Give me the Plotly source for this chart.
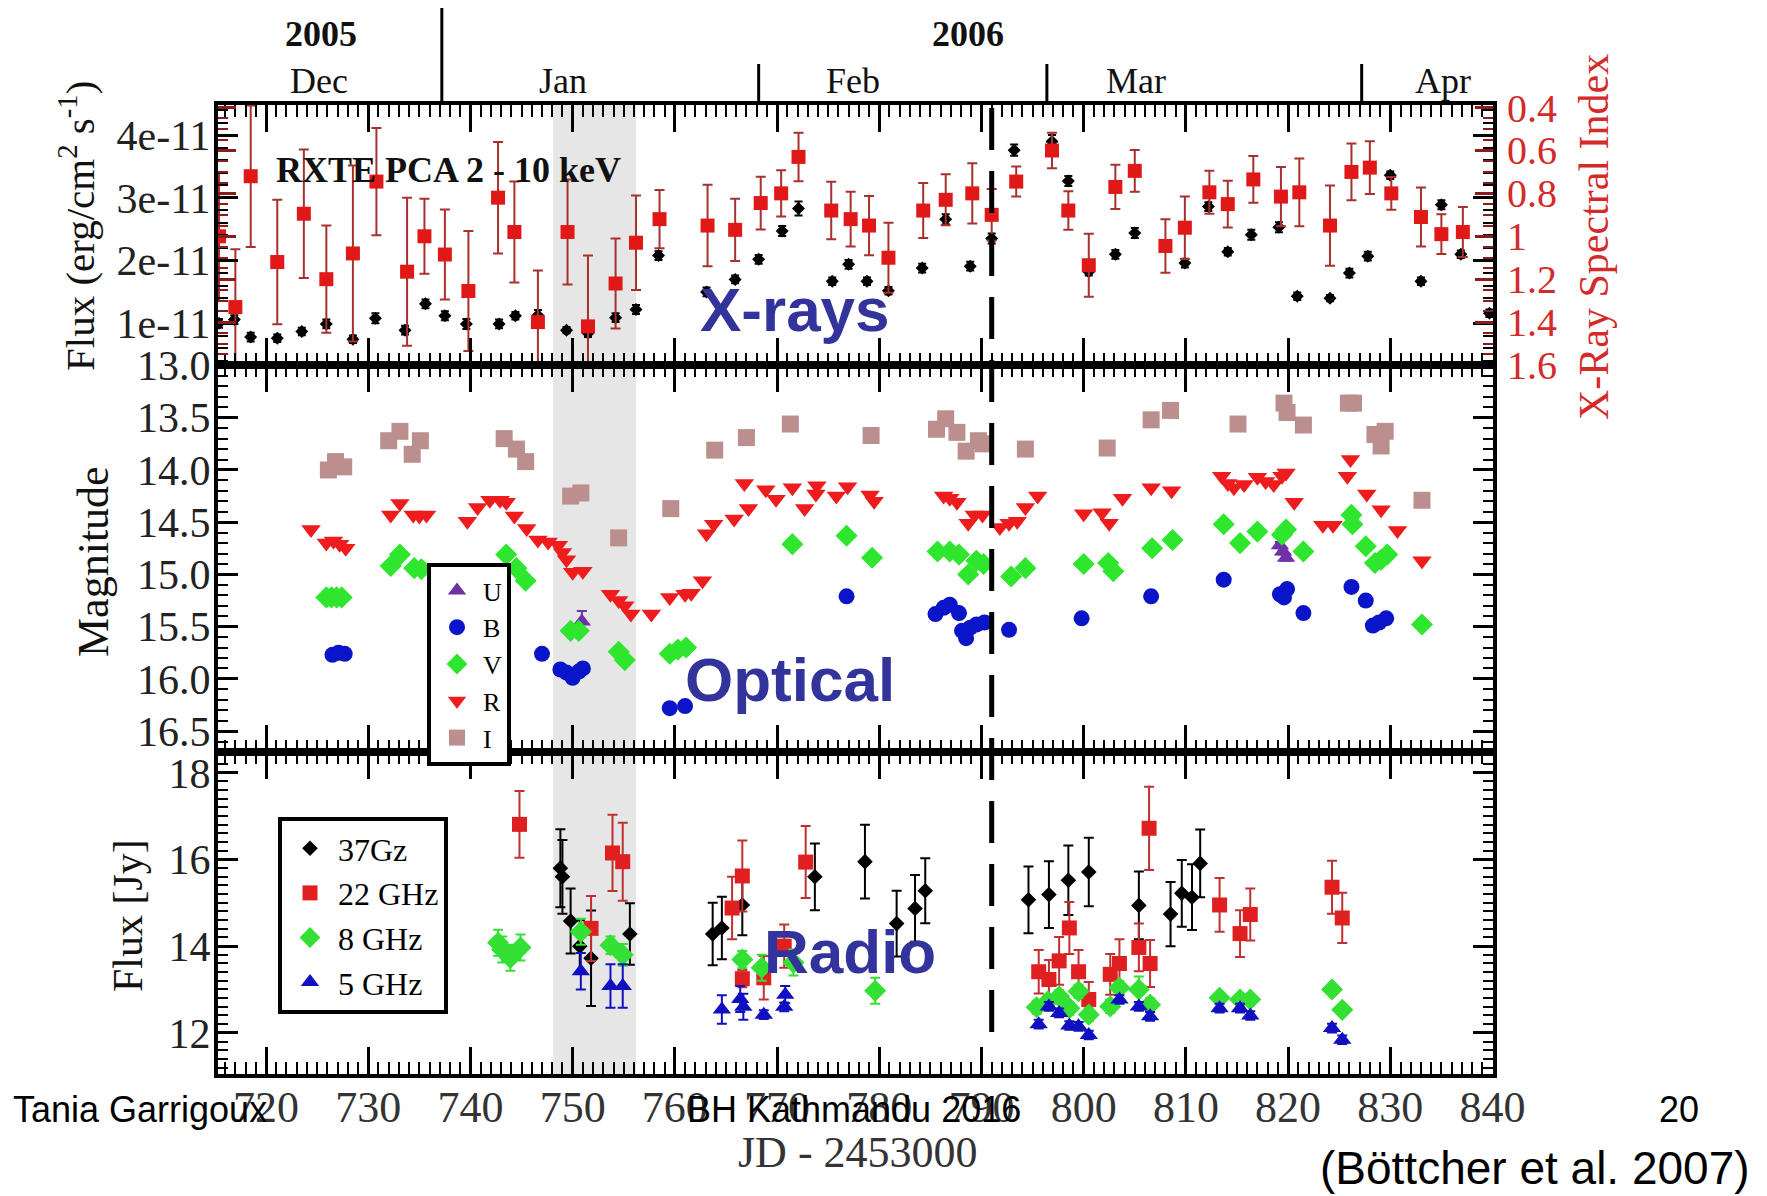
import plotly.graph_objects as go

# ---------------- X-ray panel (RXTE PCA 2-10 keV) ----------------
XRAY_JD = [715.4, 716.9, 718.5, 721.1, 723.5, 725.9, 728.5, 730.7, 733.6, 735.6,
           737.5, 739.6, 742.8, 744.4, 746.6, 749.4, 751.5, 754.2, 756.2, 758.4,
           763.1, 765.9, 768.2, 770.5, 772.1, 775.4, 777.0, 778.8, 780.9, 784.2,
           786.5, 788.9, 791.0, 793.2, 796.9, 798.5, 800.5, 803.1, 805.0, 809.9,
           812.2, 814.1, 816.4, 819.1, 820.9, 824.1, 826.0, 827.8, 830.0, 833.0,
           835.0, 836.9, 839.7]
# flux in units of 1e-11 erg/cm^2/s
XRAY_FLUX_E11 = [1.0, 1.06, 0.78, 0.76, 0.87, 0.99, 0.745, 1.08, 0.89, 1.31,
                 1.12, 0.99, 0.99, 1.12, 1.13, 0.89, 0.84, 1.09, 1.22, 2.08,
                 1.50, 1.70, 2.02, 2.47, 2.83, 1.67, 1.94, 1.67, 1.52, 1.88,
                 2.66, 1.91, 2.35, 3.76, 3.90, 3.27, 1.82, 2.10, 2.44, 1.96,
                 2.86, 2.14, 2.41, 2.53, 1.43, 1.40, 1.80, 2.07, 3.36, 1.67,
                 2.89, 2.10, 1.16]
XRAY_FLUX_ERR_E11 = [0.07, 0.07, 0.07, 0.06, 0.06, 0.07, 0.06, 0.08, 0.07, 0.07,
                     0.07, 0.08, 0.07, 0.06, 0.08, 0.05, 0.06, 0.07, 0.07, 0.07,
                     0.07, 0.06, 0.07, 0.08, 0.11, 0.06, 0.07, 0.06, 0.06, 0.07,
                     0.08, 0.07, 0.08, 0.09, 0.10, 0.08, 0.06, 0.07, 0.08, 0.07,
                     0.07, 0.06, 0.08, 0.08, 0.06, 0.05, 0.07, 0.07, 0.06, 0.06,
                     0.07, 0.06, 0.06]

INDEX_JD = [715.4, 717.0, 718.5, 721.1, 723.7, 725.9, 728.5, 730.8, 733.8, 735.5,
            737.5, 739.8, 742.7, 744.3, 746.6, 749.5, 751.5, 754.2, 756.2, 758.5,
            763.2, 765.9, 768.4, 770.4, 772.1, 775.3, 777.2, 779.0, 780.9, 784.3,
            786.5, 789.1, 791.0, 793.4, 796.9, 798.5, 800.5, 803.1, 805.0, 808.0,
            809.9, 812.3, 814.1, 816.6, 819.3, 821.1, 824.1, 826.2, 828.0, 830.1,
            833.0, 835.0, 837.1]
INDEX_VAL = [1.0, 1.33, 0.72, 1.12, 0.895, 1.20, 1.08, 0.745, 1.165, 1.0,
             1.085, 1.255, 0.82, 0.98, 1.40, 0.98, 1.42, 1.22, 1.03, 0.92,
             0.95, 0.97, 0.845, 0.80, 0.63, 0.88, 0.92, 0.95, 1.10, 0.88,
             0.83, 0.80, 0.90, 0.745, 0.60, 0.88, 1.135, 0.77, 0.695, 1.045,
             0.96, 0.795, 0.85, 0.735, 0.815, 0.795, 0.95, 0.70, 0.68, 0.80,
             0.91, 0.99, 0.98]
INDEX_ERR = [0.30, 0.27, 0.33, 0.29, 0.30, 0.25, 0.41, 0.25, 0.345, 0.175,
             0.21, 0.28, 0.26, 0.235, 0.24, 0.245, 0.33, 0.21, 0.22, 0.136,
             0.19, 0.145, 0.123, 0.108, 0.113, 0.134, 0.128, 0.138, 0.163, 0.128,
             0.119, 0.14, 0.12, 0.07, 0.083, 0.09, 0.147, 0.103, 0.097, 0.125,
             0.146, 0.10, 0.109, 0.109, 0.138, 0.158, 0.187, 0.132, 0.123, 0.076,
             0.138, 0.093, 0.117]

# ---------------- Optical panel (magnitudes) ----------------
U_JD = [750.9, 819.2, 819.5, 819.8]
U_MAG = [15.45, 14.72, 14.78, 14.84]
U_ERR = [0.10, 0.03, 0.03, 0.03]

B_JD = [726.5, 727.1, 727.7, 747.0, 748.8, 749.4, 750.0, 750.6, 751.0, 759.5,
        761.0, 776.8, 785.5, 786.3, 786.9, 787.8, 788.1, 788.5, 788.9, 789.5,
        790.3, 792.7, 799.8, 806.6, 813.7, 819.2, 819.6, 819.9, 821.5, 826.2,
        827.6, 828.3, 828.9, 829.6]
B_MAG = [15.77, 15.75, 15.76, 15.76, 15.91, 15.94, 15.99, 15.93, 15.90, 16.28,
         16.26, 15.21, 15.38, 15.32, 15.29, 15.37, 15.54, 15.61, 15.51, 15.48,
         15.46, 15.53, 15.42, 15.21, 15.05, 15.19, 15.22, 15.14, 15.37, 15.12,
         15.25, 15.49, 15.46, 15.42]

V_JD = [725.9, 726.4, 726.9, 727.4, 732.2, 733.1, 734.5, 735.2, 743.5, 744.5,
        745.4, 749.8, 750.6, 754.5, 755.1, 759.5, 760.3, 761.1, 771.5, 776.8,
        779.3, 785.7, 786.9, 787.8, 788.7, 789.5, 790.2, 792.9, 794.3, 800.0,
        802.4, 802.9, 806.7, 808.7, 813.7, 815.3, 817.0, 819.4, 819.8, 821.5,
        826.2, 826.3, 827.6, 828.5, 829.1, 829.7, 833.1]
V_MAG = [15.22, 15.22, 15.22, 15.22, 14.92, 14.81, 14.94, 14.95, 14.81, 14.94,
         15.06, 15.54, 15.54, 15.74, 15.82, 15.76, 15.72, 15.70, 14.71, 14.63,
         14.84, 14.78, 14.78, 14.81, 15.00, 14.87, 14.90, 15.02, 14.94, 14.90,
         14.89, 14.97, 14.75, 14.67, 14.52, 14.70, 14.59, 14.62, 14.57, 14.78,
         14.43, 14.52, 14.73, 14.89, 14.86, 14.81, 15.48]

R_JD = [724.4, 725.9, 726.6, 727.2, 727.8, 732.2, 733.1, 734.4, 735.0, 735.7,
        739.7, 740.7, 741.9, 742.9, 743.5, 744.3, 745.5, 746.6, 747.6, 748.6,
        749.0, 749.4, 750.0, 751.0, 753.7, 754.5, 755.1, 755.7, 757.7, 759.5,
        761.0, 761.6, 762.7, 763.1, 763.8, 765.8, 767.2, 766.8, 768.9, 769.9,
        771.5, 772.7, 773.9, 773.8, 775.8, 776.9, 779.1, 779.5, 786.3, 786.9,
        787.6, 788.7, 789.3, 790.1, 791.8, 792.7, 793.5, 794.3, 795.5, 800.0,
        801.8, 802.5, 803.8, 806.6, 808.6, 813.5, 814.1, 814.7, 815.7, 817.0,
        817.8, 818.6, 819.4, 819.8, 820.6, 823.4, 824.4, 825.8, 826.1, 827.7,
        829.1, 830.7, 833.1]
R_MAG = [14.57, 14.70, 14.68, 14.71, 14.75, 14.43, 14.32, 14.43, 14.44, 14.43,
         14.49, 14.36, 14.29, 14.29, 14.31, 14.44, 14.56, 14.67, 14.69, 14.72,
         14.79, 14.86, 14.98, 14.97, 15.19, 15.25, 15.30, 15.38, 15.38, 15.22,
         15.19, 15.18, 15.06, 14.61, 14.52, 14.47, 14.37, 14.13, 14.19, 14.28,
         14.17, 14.37, 14.15, 14.23, 14.25, 14.16, 14.24, 14.30, 14.25, 14.27,
         14.31, 14.51, 14.43, 14.43, 14.55, 14.51, 14.49, 14.36, 14.25, 14.42,
         14.41, 14.51, 14.27, 14.17, 14.20, 14.06, 14.13, 14.17, 14.14, 14.07,
         14.11, 14.14, 14.06, 14.03, 14.31, 14.53, 14.53, 14.06, 13.90, 14.23,
         14.38, 14.58, 14.87]

I_JD = [726.1, 726.8, 727.6, 732.0, 733.1, 734.3, 735.1, 743.3, 744.5, 745.4,
        749.8, 750.8, 754.5, 759.6, 763.9, 767.0, 771.3, 779.2, 785.6, 786.5,
        787.6, 788.5, 789.7, 790.2, 794.3, 802.3, 806.6, 808.5, 815.1, 819.6,
        819.9, 821.5, 825.9, 826.4, 828.5, 829.1, 829.5, 833.1]
I_MAG = [14.00, 13.92, 13.97, 13.72, 13.63, 13.85, 13.72, 13.70, 13.80, 13.92,
         14.25, 14.22, 14.65, 14.37, 13.81, 13.69, 13.56, 13.67, 13.61, 13.51,
         13.64, 13.82, 13.72, 13.75, 13.80, 13.79, 13.52, 13.43, 13.56, 13.36,
         13.45, 13.57, 13.36, 13.36, 13.66, 13.77, 13.63, 14.29]

# ---------------- Radio panel (Jy) ----------------
G37_JD = [748.8, 749.0, 749.8, 750.7, 751.8, 755.6, 763.7, 764.6, 766.6, 773.7,
          778.6, 781.7, 783.5, 784.5, 794.6, 796.6, 798.5, 800.5, 805.4, 808.5,
          809.6, 810.6, 811.4]
G37_FLUX = [15.80, 15.60, 14.58, 14.00, 13.72, 14.28, 14.28, 14.42, 14.95, 15.60,
            15.95, 14.52, 14.87, 15.28, 15.07, 15.19, 15.52, 15.71, 14.94, 14.74,
            15.22, 15.13, 15.91]
G37_ERR = [0.90, 0.85, 0.75, 0.60, 1.10, 0.71, 0.72, 0.72, 0.70, 0.77,
           0.85, 0.76, 0.77, 0.75, 0.77, 0.77, 0.80, 0.79, 0.78, 0.74,
           0.77, 0.76, 0.78]

G22_JD = [744.8, 751.8, 753.9, 754.9, 765.6, 766.6, 766.6, 768.7, 770.7, 772.8,
          795.6, 796.6, 797.6, 798.6, 799.5, 800.5, 802.6, 803.5, 805.4, 806.5,
          806.4, 813.3, 815.3, 816.3, 824.3, 825.3]
G22_FLUX = [16.81, 14.41, 16.15, 15.95, 14.88, 15.62, 13.25, 13.27, 14.00, 15.94,
            13.41, 13.23, 13.66, 14.42, 13.41, 12.77, 13.35, 13.60, 13.97, 13.60,
            16.72, 14.95, 14.29, 14.73, 15.36, 14.65]
G22_ERR = [0.77, 0.75, 0.88, 0.90, 0.72, 0.82, 0.20, 0.50, 0.50, 0.83,
           0.50, 0.45, 0.55, 0.60, 0.50, 0.40, 0.47, 0.56, 0.55, 0.54,
           0.96, 0.62, 0.54, 0.60, 0.61, 0.58]

G8_JD = [742.7, 743.1, 743.9, 744.9, 750.8, 753.7, 754.9, 766.6, 768.5, 771.6,
         779.6, 795.4, 796.5, 797.6, 798.6, 799.5, 800.5, 802.6, 803.5, 805.4,
         806.5, 813.3, 815.3, 816.3, 824.3, 825.3]
G8_FLUX = [14.08, 13.92, 13.73, 13.97, 14.33, 14.02, 13.80, 13.69, 13.50, 13.62,
           12.97, 12.59, 12.73, 12.84, 12.57, 12.96, 12.42, 12.61, 13.04, 13.00,
           12.65, 12.81, 12.77, 12.77, 13.00, 12.53]
G8_ERR = [0.30, 0.30, 0.30, 0.30, 0.30, 0.20, 0.25, 0.20, 0.30, 0.30,
          0.30, 0.15, 0.15, 0.15, 0.15, 0.15, 0.15, 0.15, 0.15, 0.30,
          0.15, 0.10, 0.10, 0.10, 0.10, 0.10]

G5_JD = [750.8, 753.7, 754.9, 764.6, 766.4, 766.7, 768.7, 770.7, 770.8, 795.6,
         796.6, 797.6, 798.6, 799.5, 800.5, 803.5, 805.4, 806.5, 813.3, 815.3,
         816.3, 824.3, 825.3]
G5_FLUX = [13.42, 13.08, 13.08, 12.54, 12.78, 12.60, 12.42, 12.60, 12.88, 12.20,
           12.61, 12.46, 12.17, 12.15, 11.95, 12.77, 12.61, 12.38, 12.57, 12.57,
           12.40, 12.11, 11.84]
G5_ERR = [0.42, 0.50, 0.50, 0.33, 0.30, 0.30, 0.10, 0.10, 0.20, 0.10,
          0.10, 0.10, 0.10, 0.10, 0.10, 0.10, 0.10, 0.10, 0.10, 0.10,
          0.10, 0.10, 0.10]

# ---------------- axis labelling ----------------
FLUX_TICKS = [1, 2, 3, 4]
FLUX_TICKTEXT = ["1e-11", "2e-11", "3e-11", "4e-11"]
INDEX_TICKS = [0.4, 0.6, 0.8, 1.0, 1.2, 1.4, 1.6]
INDEX_TICKTEXT = ["0.4", "0.6", "0.8", "1", "1.2", "1.4", "1.6"]

MONTHS = ["Dec", "Jan", "Feb", "Mar", "Apr"]
MONTH_LABEL_JD = [725.2, 749.1, 777.4, 805.1, 835.2]
YEARS = ["2005", "2006"]
YEAR_LABEL_JD = [725.4, 788.7]
YEAR_EDGE_JD = [737.2]
MONTH_EDGE_JD = [768.2, 796.4, 827.2]

FLARE_WINDOW = [748.1, 756.2]
EVENT_JD = 791.0

# ---------------- layout geometry ----------------
W, H = 1767, 1196
X_DOM = [218 / W, 1493 / W]
TOP_DOM = [1 - 365 / H, 1 - 105 / H]
MID_DOM = [1 - 752 / H, 1 - 365 / H]
BOT_DOM = [1 - 1074 / H, 1 - 752 / H]
X_RANGE = [715.3, 840.05]

SERIF = "Liberation Serif"
SANS = "Liberation Sans"
SLIDE_BLUE = "#33339c"
IDX_RED = "#d42a2a"

fig = go.Figure()

# X-ray flux (left axis) and spectral index (right axis)
fig.add_trace(go.Scatter(
    x=XRAY_JD, y=XRAY_FLUX_E11, mode="markers", xaxis="x", yaxis="y",
    marker=dict(symbol="diamond", size=10, color="black"),
    error_y=dict(type="data", array=XRAY_FLUX_ERR_E11, color="black", thickness=2, width=4),
    showlegend=False))
fig.add_trace(go.Scatter(
    x=INDEX_JD, y=INDEX_VAL, mode="markers", xaxis="x", yaxis="y4",
    marker=dict(symbol="square", size=14, color="#e01818"),
    error_y=dict(type="data", array=INDEX_ERR, color="#a8302f", thickness=2, width=5),
    showlegend=False))

# optical bands
optical = [
    ("U", U_JD, U_MAG, "triangle-up", "#7030a8", 16, U_ERR),
    ("B", B_JD, B_MAG, "circle", "#0a14c8", 16, None),
    ("V", V_JD, V_MAG, "diamond", "#2ee62e", 17, None),
    ("R", R_JD, R_MAG, "triangle-down", "#ee1c1c", 17, None),
    ("I", I_JD, I_MAG, "square", "#bc8f8f", 17, None),
]
for name, xs, ys, sym, col, size, err in optical:
    tr = dict(x=xs, y=ys, mode="markers", name=name, xaxis="x2", yaxis="y2",
              marker=dict(symbol=sym, size=size, color=col), legend="legend")
    if err is not None:
        tr["error_y"] = dict(type="data", array=err, color=col, thickness=2, width=5)
    fig.add_trace(go.Scatter(**tr))

# radio bands
radio = [
    ("37Gz", G37_JD, G37_FLUX, G37_ERR, "diamond", "black", "black", 12),
    ("22 GHz", G22_JD, G22_FLUX, G22_ERR, "square", "#e02020", "#c03030", 15),
    ("8 GHz", G8_JD, G8_FLUX, G8_ERR, "diamond", "#33e033", "#33e033", 17),
    ("5 GHz", G5_JD, G5_FLUX, G5_ERR, "triangle-up", "#1010c0", "#1010c0", 16),
]
for name, xs, ys, err, sym, col, ecol, size in radio:
    fig.add_trace(go.Scatter(
        x=xs, y=ys, mode="markers", name=name, xaxis="x3", yaxis="y3",
        marker=dict(symbol=sym, size=size, color=col),
        error_y=dict(type="data", array=err, color=ecol, thickness=2, width=5),
        legend="legend2"))

tickfont = dict(family=SERIF, size=42, color="#222")


def x_axis(anchor, labels):
    return dict(domain=X_DOM, range=X_RANGE, anchor=anchor, automargin=False,
                tickmode="linear", tick0=720, dtick=10,
                ticks="inside", ticklen=27, tickwidth=3, tickcolor="black",
                minor=dict(tickmode="linear", tick0=720, dtick=1, ticks="inside",
                           ticklen=12, tickwidth=2, tickcolor="black"),
                showline=True, linewidth=4, linecolor="black", mirror="ticks",
                showgrid=False, zeroline=False, showticklabels=labels,
                tickfont=dict(family=SERIF, size=44, color="#333"),
                ticklabelstandoff=-9)


def y_axis(domain, rng, anchor, **kw):
    d = dict(domain=domain, range=rng, anchor=anchor, automargin=False,
             ticks="inside", ticklen=20, tickwidth=3, tickcolor="black",
             showline=True, linewidth=4, linecolor="black", mirror="ticks",
             showgrid=False, zeroline=False, tickfont=tickfont,
             ticklabelstandoff=-5)
    d.update(kw)
    return d


layout = dict(
    width=W, height=H, autosize=False,
    margin=dict(l=0, r=0, t=0, b=0, pad=0),
    paper_bgcolor="white", plot_bgcolor="white",
    xaxis=x_axis("y", False),
    xaxis2=x_axis("y2", False),
    xaxis3=x_axis("y3", True),
    yaxis=y_axis(TOP_DOM, [0.335, 4.48], "x",
                 tickmode="array", tickvals=FLUX_TICKS, ticktext=FLUX_TICKTEXT,
                 minor=dict(tickmode="linear", tick0=0, dtick=0.2, ticks="inside",
                            ticklen=10, tickwidth=2, tickcolor="black")),
    yaxis4=dict(overlaying="y", side="right", anchor="x", range=[1.6, 0.388],
                automargin=False,
                tickmode="array", tickvals=INDEX_TICKS, ticktext=INDEX_TICKTEXT,
                ticks="inside", ticklen=18, tickwidth=3, tickcolor="#8b1c1c",
                minor=dict(tickmode="linear", tick0=0.4, dtick=0.05, ticks="inside",
                           ticklen=10, tickwidth=2, tickcolor="#8b1c1c"),
                showline=True, linewidth=4, linecolor="black", mirror="ticks",
                showgrid=False, zeroline=False,
                tickfont=dict(family=SERIF, size=40, color=IDX_RED),
                ticklabelstandoff=2),
    yaxis2=y_axis(MID_DOM, [16.7, 12.995], "x2",
                  tickmode="linear", tick0=13, dtick=0.5, tickformat=".1f",
                  minor=dict(tickmode="linear", tick0=13, dtick=0.1, ticks="inside",
                             ticklen=10, tickwidth=2, tickcolor="black")),
    yaxis3=y_axis(BOT_DOM, [11.05, 18.48], "x3",
                  tickmode="linear", tick0=12, dtick=2,
                  minor=dict(tickmode="linear", tick0=12, dtick=0.2, ticks="inside",
                             ticklen=10, tickwidth=2, tickcolor="black")),
    legend=dict(x=427 / W, y=1 - 563 / H, xanchor="left", yanchor="top",
                bgcolor="white", bordercolor="black", borderwidth=4,
                font=dict(family=SERIF, size=26, color="black"),
                itemwidth=42, tracegroupgap=0, itemclick=False),
    legend2=dict(x=278 / W, y=1 - 817 / H, xanchor="left", yanchor="top",
                 bgcolor="white", bordercolor="black", borderwidth=4,
                 font=dict(family=SERIF, size=32, color="black"),
                 itemwidth=46, tracegroupgap=0, itemclick=False),
)
fig.update_layout(**layout)

shapes = []
# flaring window shaded across all three panels
shapes.append(dict(type="rect", xref="x", yref="paper",
                   x0=FLARE_WINDOW[0], x1=FLARE_WINDOW[1],
                   y0=BOT_DOM[0], y1=TOP_DOM[1],
                   fillcolor="#e6e6e6", line=dict(width=0), layer="below"))
# dashed reference epoch
shapes.append(dict(type="line", xref="x", yref="paper",
                   x0=EVENT_JD, x1=EVENT_JD, y0=1 - 1032 / H, y1=TOP_DOM[1],
                   line=dict(color="black", width=5, dash="42px,21px")))
# calendar separators above the top panel
for jd in YEAR_EDGE_JD:
    shapes.append(dict(type="line", xref="x", yref="paper", x0=jd, x1=jd,
                       y0=TOP_DOM[1], y1=1 - 8 / H, line=dict(color="black", width=3)))
for jd in MONTH_EDGE_JD:
    shapes.append(dict(type="line", xref="x", yref="paper", x0=jd, x1=jd,
                       y0=TOP_DOM[1], y1=1 - 64 / H, line=dict(color="black", width=3)))
fig.update_layout(shapes=shapes)


def label(text, x, y, size, color="#111", family=SERIF, angle=0,
          xref="paper", xanchor="center"):
    return dict(text=text, x=x, y=y, xref=xref, yref="paper",
                xanchor=xanchor, yanchor="middle", showarrow=False,
                textangle=angle, font=dict(family=family, size=size, color=color))


ann = []
for name, jd in zip(MONTHS, MONTH_LABEL_JD):
    ann.append(label(name, jd, 1 - 81 / H, 36, xref="x"))
for name, jd in zip(YEARS, YEAR_LABEL_JD):
    ann.append(label("<b>" + name + "</b>", jd, 1 - 34 / H, 36, xref="x"))

ann.append(label("<b>RXTE PCA 2 - 10 keV</b>", 448 / W, 1 - 170 / H, 36))

# axis titles
ann.append(label("Flux (erg/cm<sup>2</sup> s<sup>-1</sup>)", 77 / W, 1 - 226 / H, 41, angle=-90))
ann.append(label("Magnitude", 93 / W, 1 - 562 / H, 44, angle=-90))
ann.append(label("Flux [Jy]", 128 / W, 1 - 916 / H, 42, angle=-90))
ann.append(label("X-Ray Spectral Index", 1594 / W, 1 - 237 / H, 42, color=IDX_RED, angle=-90))
ann.append(label("JD - 2453000", 858 / W, 1 - 1152 / H, 44, color="#333"))

# band captions
for txt, cx, cy in [("X-rays", 795, 309), ("Optical", 790, 679), ("Radio", 850, 951)]:
    ann.append(label("<b>" + txt + "</b>", cx / W, 1 - cy / H, 62,
                     color=SLIDE_BLUE, family=SANS))

# slide footer
ann.append(label("Tania Garrigoux", 11 / W, 1 - 1109 / H, 36, color="black",
                 family=SANS, xanchor="left"))
ann.append(label("BH Kathmandu 2016", 854 / W, 1 - 1109 / H, 36, color="black", family=SANS))
ann.append(label("20", 1679 / W, 1 - 1109 / H, 36, color="black", family=SANS))
ann.append(label("(Böttcher et al. 2007)", 1752 / W, 1 - 1168 / H, 46, color="black",
                 family=SANS, xanchor="right"))

fig.update_layout(annotations=ann)

fig.write_html("out.html")
